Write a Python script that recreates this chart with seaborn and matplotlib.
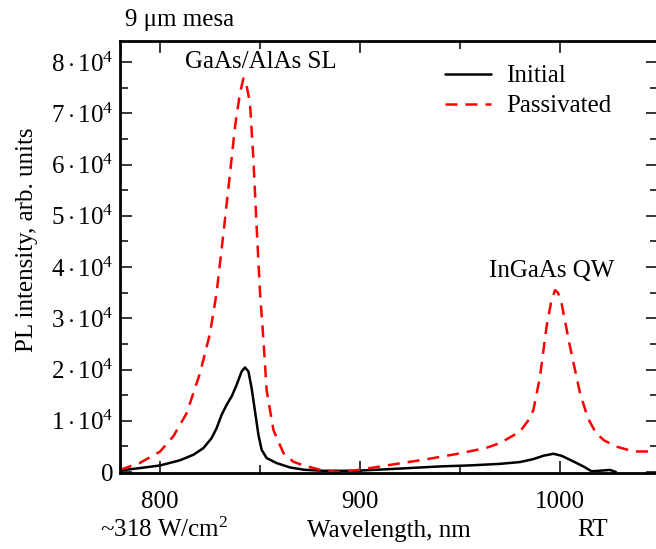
import numpy as np
import pandas as pd
import seaborn as sns
import matplotlib.pyplot as plt
from matplotlib.ticker import MultipleLocator, FuncFormatter

######################################
### Data

wl_init = [780, 790, 800, 810, 816.7, 821.7, 825.8, 828.3, 830.8, 833.3, 835.8, 838.3, 840.8,
           842.5, 844.2, 845.8, 847.5, 849.2, 850.8, 853.3, 858.3, 865, 872, 881.7, 898, 915,
           940, 955, 970, 980, 986.7, 991.7, 996.7, 1000.8, 1006.7, 1011.7, 1015.8, 1021.7,
           1025, 1028]
pl_init = [310, 780, 1290, 2300, 3380, 4680, 6630, 8580, 11170, 13120, 14750, 17020, 19620,
           20400, 19620, 16380, 11820, 7270, 4350, 2730, 1750, 900, 450, 250, 250, 580,
           1100, 1300, 1600, 1950, 2530, 3180, 3570, 3180, 2070, 1100, 150, 310,
           420, 0]

wl_pass = [780, 790, 800, 806.7, 813.3, 820, 825, 828.3, 831.7, 835, 837.5, 840, 841.7, 843,
           845, 846.7, 848.3, 850, 851.7, 853.3, 856.7, 861.7, 866.7, 871.7, 880, 889, 900,
           915, 931.7, 948, 963, 970, 980, 984, 986.7, 990, 993.3, 995.5, 997.5, 999, 1000.8,
           1003, 1005, 1010, 1014, 1018, 1022, 1028, 1036.7, 1048]
pl_pass = [430, 1800, 4000, 7000, 11500, 19300, 27100, 35000, 46600, 58300, 67400, 74000, 76800, 76000,
           71900, 60900, 47900, 35000, 25800, 16000, 8200, 3700, 2000, 1300, 450, 0, 450,
           1400, 2400, 3500, 4700, 5650, 7900, 10000, 12100, 18600, 28400, 33000, 35500, 35000,
           32900, 28500, 24500, 15400, 10500, 7600, 6200, 5000, 4020, 4000]

init_df = pd.DataFrame({'wl': wl_init, 'pl': pl_init})
pass_df = pd.DataFrame({'wl': wl_pass, 'pl': pl_pass})

######################################
### Plot

sns.set_style('ticks')
plt.rcParams['font.family'] = ['Liberation Serif', 'DejaVu Serif']
plt.rcParams['mathtext.fontset'] = 'custom'
plt.rcParams['mathtext.rm'] = 'Liberation Serif'
plt.rcParams['mathtext.it'] = 'Liberation Serif:italic'
plt.rcParams['font.size'] = 18
for k in ['text.color', 'axes.labelcolor', 'xtick.color', 'ytick.color', 'axes.edgecolor']:
    plt.rcParams[k] = 'black'

fig = plt.figure(figsize=(6.56, 5.49), dpi=100)
ax = fig.add_axes([0.183, 0.138, 0.82, 0.787])

sns.lineplot(x='wl', y='pl', data=init_df, color='black', lw=1.8, label='Initial', ax=ax, sort=False)
sns.lineplot(x='wl', y='pl', data=pass_df, color='red', lw=1.8, label='Passivated', ax=ax, sort=False)
ax.lines[1].set_dashes((4.8, 3.2))

ax.set_xlim(780, 1049)
ax.set_ylim(-230, 84070)

ax.xaxis.set_major_locator(MultipleLocator(100))
ax.xaxis.set_minor_locator(MultipleLocator(50))
ax.yaxis.set_major_locator(MultipleLocator(10000))
ax.yaxis.set_minor_locator(MultipleLocator(5000))
ax.yaxis.set_major_formatter(FuncFormatter(
    lambda v, p: '0' if v == 0 else r'$%d\cdot10^4$' % round(v / 1e4)))

ax.tick_params(which='both', direction='in', top=True, right=True, width=1.1, labelsize=18)
ax.tick_params(which='major', length=8.5)
ax.tick_params(which='minor', length=6)
ax.tick_params(axis='x', which='major', pad=13)
ax.tick_params(axis='y', which='major', pad=5)
for s in ax.spines.values():
    s.set_linewidth(2)

ax.set_xlabel('Wavelength, nm', fontsize=18, labelpad=5)
ax.set_ylabel('PL intensity, arb. units', fontsize=18)
ax.yaxis.set_label_coords(-0.152, 0.54)

ax.text(850.5, 80000, 'GaAs/AlAs SL', ha='center', va='center', fontsize=18)
ax.text(996, 39200, 'InGaAs QW', ha='center', va='center', fontsize=18)

fig.text(125 / 656, 1 - 20 / 549, '9 \u03bcm mesa', ha='left', va='center', fontsize=18)
fig.text(100 / 656, 1 - 530 / 549, '~318 W/cm$^2$', ha='left', va='center', fontsize=18)
fig.text(593 / 656, 1 - 530 / 549, 'RT', ha='center', va='center', fontsize=18)

ax.legend(loc='upper left', bbox_to_anchor=(0.604, 0.945), frameon=False, fontsize=18,
          handlelength=1.85, handletextpad=0.6, labelspacing=0.3, borderpad=0, borderaxespad=0)

fig.savefig('out.png', dpi=100)
